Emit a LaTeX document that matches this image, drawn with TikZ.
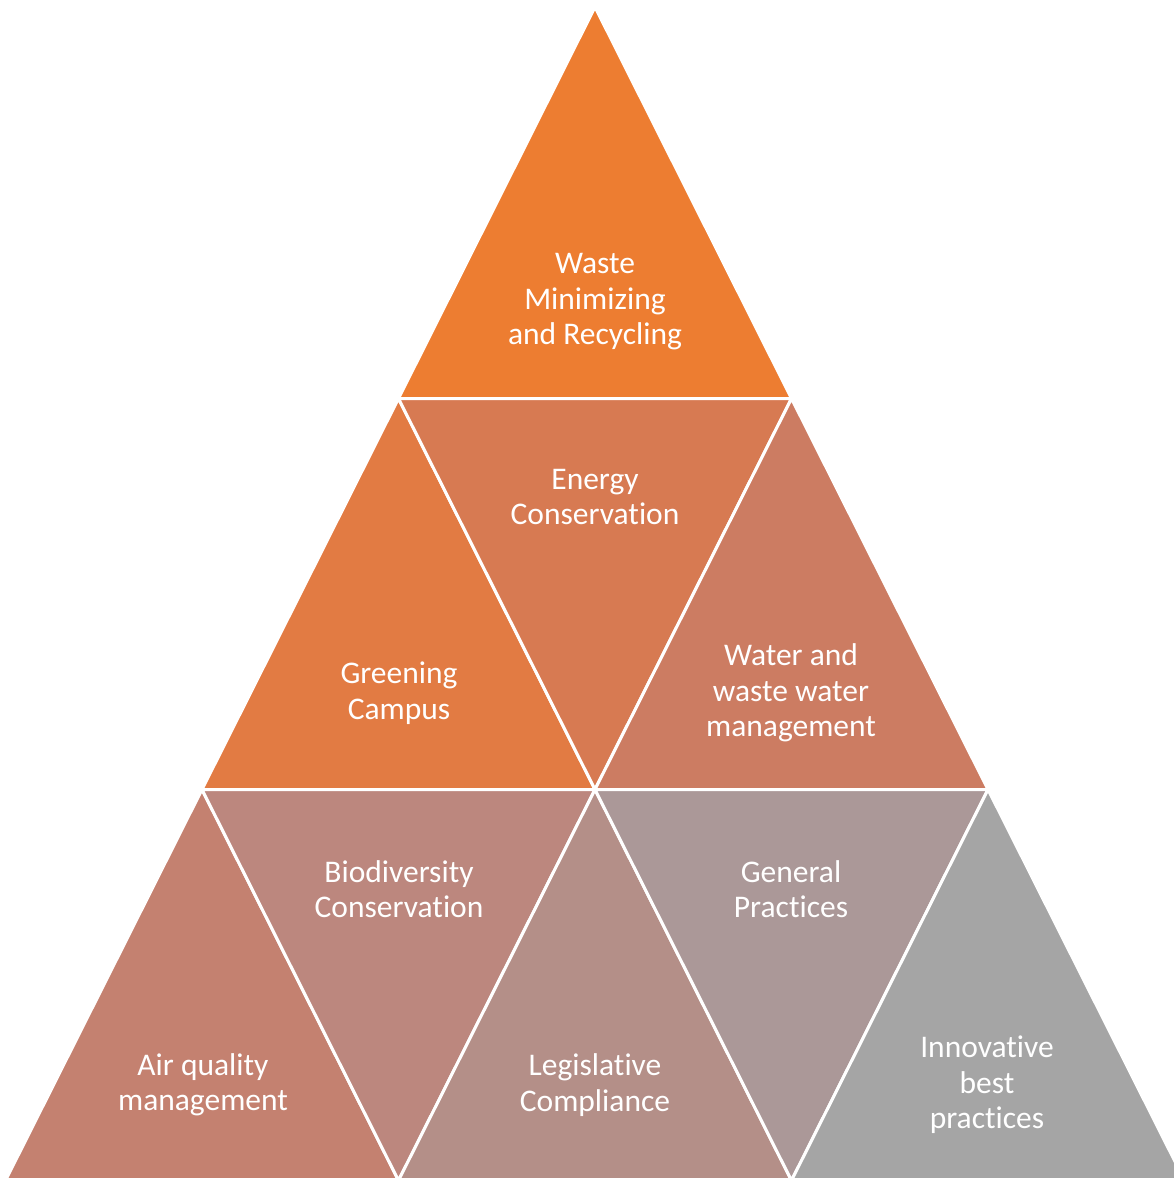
\documentclass[tikz,border=0pt]{standalone}
\usepackage{fontspec}
\setmainfont[Ligatures={NoCommon}]{Carlito}
\definecolor{c0}{HTML}{ED7D31}
\definecolor{c1}{HTML}{E27B43}
\definecolor{c2}{HTML}{D77A52}
\definecolor{c3}{HTML}{CC7C62}
\definecolor{c4}{HTML}{C48170}
\definecolor{c5}{HTML}{BC877E}
\definecolor{c6}{HTML}{B48F88}
\definecolor{c7}{HTML}{AB9898}
\definecolor{c8}{HTML}{A5A5A5}
\begin{document}
\begin{tikzpicture}[x=1pt,y=-1pt,
  tri/.style={draw=white, line width=3pt, line join=miter},
  lbl/.style={text=white, align=center, font=\fontsize{31.5}{35.5}\selectfont, inner sep=0pt}]
\useasboundingbox (0,0) rectangle (1174,1178);
\clip (0,0) rectangle (1174,1178);
\def\hw{196.5}
\coordinate (a) at (595,7);
\coordinate (b1) at ({595-\hw},398.5);
\coordinate (b2) at ({595+\hw},398.5);
\coordinate (m1) at ({595-2*\hw},789.5);
\coordinate (m2) at (595,789.5);
\coordinate (m3) at ({595+2*\hw},789.5);
\coordinate (l1) at ({595-3*\hw},1180.5);
\coordinate (l2) at ({595-\hw},1180.5);
\coordinate (l3) at ({595+\hw},1180.5);
\coordinate (l4) at ({595+3*\hw},1180.5);
% top
\fill[c0, tri] (a) -- (b1) -- (b2) -- cycle;
% row 2
\fill[c1, tri] (b1) -- (m1) -- (m2) -- cycle;
\fill[c2, tri] (b1) -- (b2) -- (m2) -- cycle;
\fill[c3, tri] (b2) -- (m2) -- (m3) -- cycle;
% row 3
\fill[c4, tri] (m1) -- (l1) -- (l2) -- cycle;
\fill[c5, tri] (m1) -- (m2) -- (l2) -- cycle;
\fill[c6, tri] (m2) -- (l2) -- (l3) -- cycle;
\fill[c7, tri] (m2) -- (m3) -- (l3) -- cycle;
\fill[c8, tri] (m3) -- (l3) -- (l4) -- cycle;
% labels
\node[lbl] (waste) at (595,302) {Waste\\Minimizing\\and Recycling};
\node[lbl] (energy) at (595,497) {Energy\\Conservation};
\node[lbl] (green) at (399,693) {Greening\\Campus};
\node[lbl] (water) at (791,693) {Water and\\waste water\\management};
\node[lbl] (bio) at (399,889) {Biodiversity\\Conservation};
\node[lbl] (gen) at (791,889) {General\\Practices};
\node[lbl] (air) at (203,1085) {Air quality\\management};
\node[lbl] (legis) at (595,1085) {Legislative\\Compliance};
\node[lbl] (innov) at (987,1085) {Innovative\\best\\practices};
\end{tikzpicture}
\end{document}
